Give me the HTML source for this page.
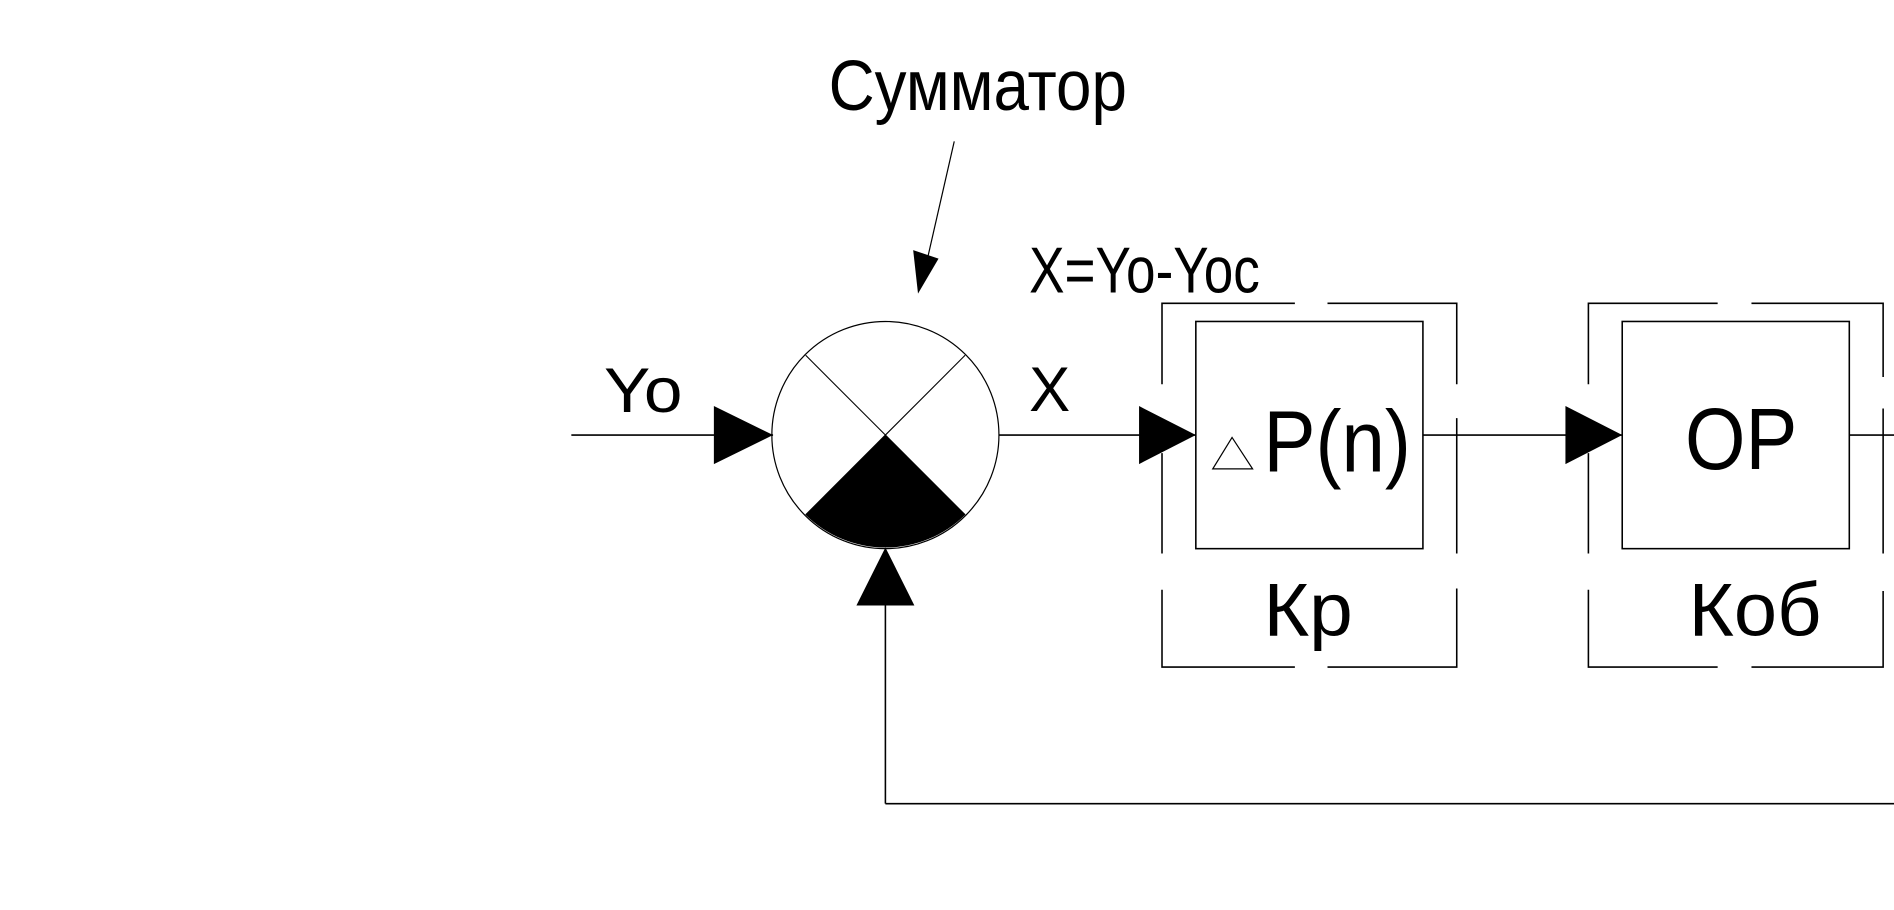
<!DOCTYPE html>
<html><head><meta charset="utf-8"><style>
html,body{margin:0;padding:0;background:#fff;}
svg{display:block;}
text{font-family:"Liberation Sans",sans-serif;fill:#000;}
</style></head><body>
<svg width="1894" height="910" viewBox="0 0 1568 753" preserveAspectRatio="none" xmlns="http://www.w3.org/2000/svg">
<g stroke="#000" stroke-width="1.3" fill="none">
<line x1="473" y1="360" x2="640" y2="360"/>
<circle cx="733" cy="360" r="94" stroke-width="1"/>
<line x1="667" y1="294" x2="799" y2="426" stroke-width="0.9"/>
<line x1="799" y1="294" x2="667" y2="426" stroke-width="0.9"/>
<line x1="790" y1="117" x2="766" y2="222" stroke-width="1"/>
<line x1="733" y1="500" x2="733" y2="665"/>
<line x1="733" y1="665" x2="1568" y2="665"/>
<line x1="827" y1="360" x2="990" y2="360"/>
<rect x="990" y="266" width="188" height="188"/>
<path d="M962,318 V251 H1072 M1099,251 H1206 V318 M1206,346 V458 M1206,487 V552 H1099 M1072,552 H962 V488 M962,458 V375"/>
<line x1="1178" y1="360" x2="1343" y2="360"/>
<rect x="1343" y="266" width="188" height="188"/>
<path d="M1315,318 V251 H1422 M1450,251 H1559 V312 M1559,338 V458 M1559,489 V552 H1450 M1422,552 H1315 V488 M1315,458 V375"/>
<line x1="1531" y1="360" x2="1568" y2="360"/>
<polygon points="1020,362 1004,388 1037,388" stroke-width="1"/>
</g>
<g fill="#000">
<path d="M733,360 L667,426 A94,94 0 0 0 799,426 Z"/>
<polygon points="591,336 640,360 591,384"/>
<polygon points="733,453 709,501 757,501"/>
<polygon points="943,336 990,360 943,384"/>
<polygon points="1296,336 1343,360 1296,384"/>
<polygon points="756,207 777,214 760,243"/>
</g>
<text x="686" y="91" font-size="59" textLength="247" lengthAdjust="spacingAndGlyphs">Сумматор</text>
<text x="852" y="242" font-size="54" textLength="191" lengthAdjust="spacingAndGlyphs">X=Yo-Yoc</text>
<text x="500" y="341" font-size="52" textLength="65" lengthAdjust="spacingAndGlyphs">Yo</text>
<text x="852" y="340" font-size="52" textLength="34" lengthAdjust="spacingAndGlyphs">X</text>
<text x="1046" y="390" font-size="72" textLength="122" lengthAdjust="spacingAndGlyphs">P(n)</text>
<text x="1395" y="388" font-size="72" textLength="93" lengthAdjust="spacingAndGlyphs">ОР</text>
<text x="1046" y="526" font-size="62" textLength="74" lengthAdjust="spacingAndGlyphs">Кр</text>
<text x="1398" y="526" font-size="62" textLength="110" lengthAdjust="spacingAndGlyphs">Коб</text>
</svg>
</body></html>
